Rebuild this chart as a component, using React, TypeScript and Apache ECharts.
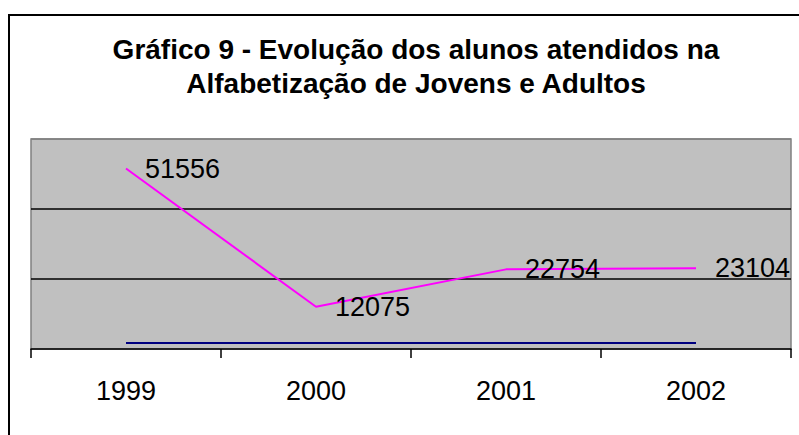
import React, { useEffect, useRef } from "react";
import * as echarts from "echarts";

const titleText = "Gráfico 9 - Evolução dos alunos atendidos na\nAlfabetização de Jovens e Adultos";
const categories = ["1999", "2000", "2001", "2002"];
const alunosAtendidos = [51556, 12075, 22754, 23104];
const segundaSerie = [1700, 1700, 1700, 1700];
const yMin = 0;
const yMax = 60000;
const yInterval = 20000;

const FONT = '"Liberation Sans", Arial, Helvetica, sans-serif';

export default function App() {
  const ref = useRef<HTMLDivElement>(null);
  useEffect(() => {
    if (!ref.current) return;
    const chart = echarts.init(ref.current, null, { renderer: "svg" });
    chart.setOption({
      animation: false,
      backgroundColor: "#ffffff",
      title: {
        text: titleText,
        left: 411,
        top: 27,
        textAlign: "center",
        textStyle: {
          fontFamily: FONT,
          fontSize: 28,
          fontWeight: "bold",
          color: "#000000",
          lineHeight: 34,
        },
      },
      graphic: [
        {
          type: "rect",
          shape: { x: 9, y: 15, width: 900, height: 600 },
          style: { fill: "none", stroke: "#000000", lineWidth: 2 },
          silent: true,
          z: 100,
        },
      ],
      grid: {
        left: 31,
        right: 8,
        top: 139,
        bottom: 86,
        show: true,
        backgroundColor: "#C0C0C0",
        borderColor: "#808080",
        borderWidth: 1.5,
      },
      xAxis: {
        type: "category",
        data: categories,
        boundaryGap: true,
        axisLine: { show: true, lineStyle: { color: "#000000", width: 1.5 } },
        axisTick: {
          show: true,
          alignWithLabel: false,
          inside: false,
          length: 9,
          lineStyle: { color: "#000000", width: 1.5 },
        },
        axisLabel: {
          fontFamily: FONT,
          fontSize: 27,
          color: "#000000",
          margin: 28,
        },
        splitLine: { show: false },
      },
      yAxis: {
        type: "value",
        min: yMin,
        max: yMax,
        interval: yInterval,
        axisLine: { show: false },
        axisTick: { show: false },
        axisLabel: { show: false },
        splitLine: {
          show: true,
          lineStyle: {
            color: ["transparent", "#000000", "#000000", "#808080"],
            width: 1.5,
          },
        },
      },
      series: [
        {
          name: "Alunos atendidos",
          type: "line",
          data: alunosAtendidos,
          showSymbol: true,
          symbol: "circle",
          symbolSize: 4,
          lineStyle: { color: "#FF00FF", width: 2 },
          itemStyle: { color: "rgba(0,0,0,0)", borderWidth: 0 },
          label: {
            show: true,
            position: "right",
            distance: 17,
            fontFamily: FONT,
            fontSize: 27,
            color: "#000000",
          },
          z: 3,
        },
        {
          name: "Série 2",
          type: "line",
          data: segundaSerie,
          showSymbol: false,
          symbol: "none",
          lineStyle: { color: "#000080", width: 2 },
          itemStyle: { color: "#000080" },
          z: 2,
        },
      ],
    });
    return () => chart.dispose();
  }, []);
  return (
    <div
      ref={ref}
      style={{ position: "absolute", left: 0, top: 0, width: 799, height: 435 }}
    />
  );
}
